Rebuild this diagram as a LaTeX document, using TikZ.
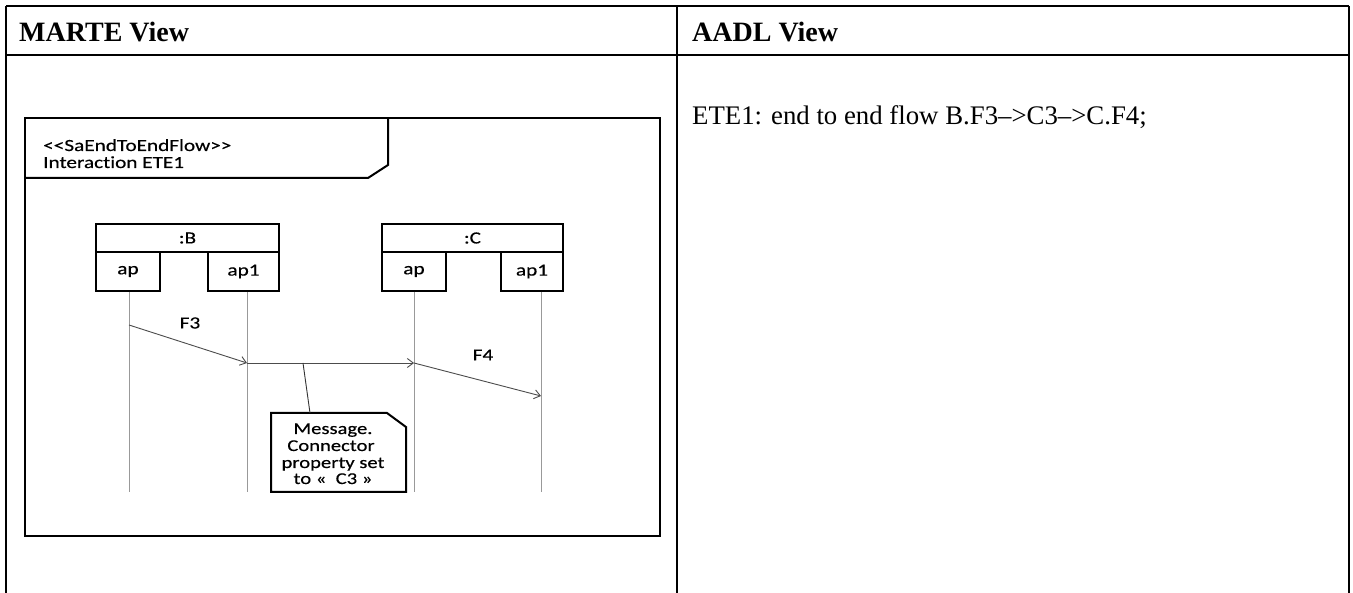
\documentclass[tikz,border=0pt]{standalone}
\usepackage{fontspec}
\setmainfont{Liberation Serif}
\newfontfamily\diagfont[FakeStretch=1.25,FakeBold=0.4,Ligatures=NoCommon]{Carlito}
\usetikzlibrary{arrows.meta}
\begin{document}
\begin{tikzpicture}[x=1pt,y=-1pt,
  tbl/.style={line width=2.4pt,black},
  hdr/.style={anchor=base west,inner sep=0pt,font=\fontsize{28}{32}\selectfont\bfseries},
  bodytext/.style={anchor=base west,inner sep=0pt,font=\fontsize{26.8}{32}\selectfont},
  dtext/.style={inner sep=0pt,font=\diagfont\fontsize{17}{17}\selectfont},
  ntext/.style={inner sep=0pt,anchor=base,font=\diagfont\fontsize{16.5}{16.7}\selectfont},
  frm/.style={line width=2pt,black,line join=miter},
  partbox/.style={draw,line width=2pt,inner sep=0pt,font=\diagfont\fontsize{17}{17}\selectfont},
  lifeline/.style={draw=black!40,line width=0.9pt},
  msg/.style={draw=black!70,line width=0.9pt,-{Straight Barb[length=6pt,width=9pt]}},
  notelink/.style={draw=black!80,line width=0.9pt},
]
\useasboundingbox (0,0) rectangle (1353,593);
\fill[white] (0,0) rectangle (1353,593);

% table
\draw[tbl] (6,6) -- (1349,6);
\draw[tbl] (6,55) -- (1349,55);
\draw[tbl] (6,6) -- (6,593);
\draw[tbl] (677,6) -- (677,593);
\draw[tbl] (1349,6) -- (1349,593);
\node[hdr] (hm) at (19,42) {MARTE View};
\node[hdr] (ha) at (692,42) {AADL View};
\node[bodytext] (ete) at (692,125) {ETE1: end to end flow B.F3–>C3–>C.F4;};

% interaction frame
\draw[frm] (25,118) rectangle (660,536);
\draw[frm] (25,178) -- (368,178) -- (388,165) -- (388,118);
\node[dtext,anchor=base west] (st) at (43,151) {<<SaEndToEndFlow>>};
\node[dtext,anchor=base west] (it) at (43,168) {Interaction ETE1};

% lifeline heads
\node[partbox,minimum width=183pt,minimum height=28pt] (Bh) at (187.5,238) {:B};
\node[partbox,minimum width=64pt,minimum height=39pt] (Bap) at (128,271.5) {ap};
\node[partbox,minimum width=71pt,minimum height=39pt] (Bap1) at (243.5,271.5) {ap1};
\node[partbox,minimum width=181pt,minimum height=28pt] (Ch) at (472.5,238) {:C};
\node[partbox,minimum width=64pt,minimum height=39pt] (Cap) at (414,271.5) {ap};
\node[partbox,minimum width=62pt,minimum height=39pt] (Cap1) at (532,271.5) {ap1};

% lifelines
\coordinate (l1t) at (129,292); \coordinate (l1b) at (129,492);
\coordinate (l2t) at (247,292); \coordinate (l2b) at (247,492);
\coordinate (l3t) at (414,292); \coordinate (l3b) at (414,492);
\coordinate (l4t) at (541,292); \coordinate (l4b) at (541,492);
\draw[lifeline] (l1t) -- (l1b);
\draw[lifeline] (l2t) -- (l2b);
\draw[lifeline] (l3t) -- (l3b);
\draw[lifeline] (l4t) -- (l4b);

% messages
\coordinate (f3s) at (129,325);
\coordinate (f3e) at (247,363);
\coordinate (f4s) at (414,363);
\coordinate (f4e) at (541,396);
\draw[msg] (f3s) -- (f3e);
\draw[msg] (f3e) -- (f4s);
\draw[msg] (f4s) -- (f4e);
\node[dtext] (lf3) at (190,323) {F3};
\node[dtext] (lf4) at (483,355) {F4};

% note
\draw[frm,fill=white] (271,413) -- (387,413) -- (406,427) -- (406,492) -- (271,492) -- cycle;
\coordinate (nm) at (303,363);
\coordinate (nt) at (310,413);
\draw[notelink] (nm) -- (nt);
\node[ntext] (n1) at (333,434) {Message.};
\node[ntext] (n2) at (331,451) {Connector};
\node[ntext] (n3) at (333,468) {property set};
\node[ntext] (n4) at (333,484) {to «\ \ C3 »};
\end{tikzpicture}
\end{document}
